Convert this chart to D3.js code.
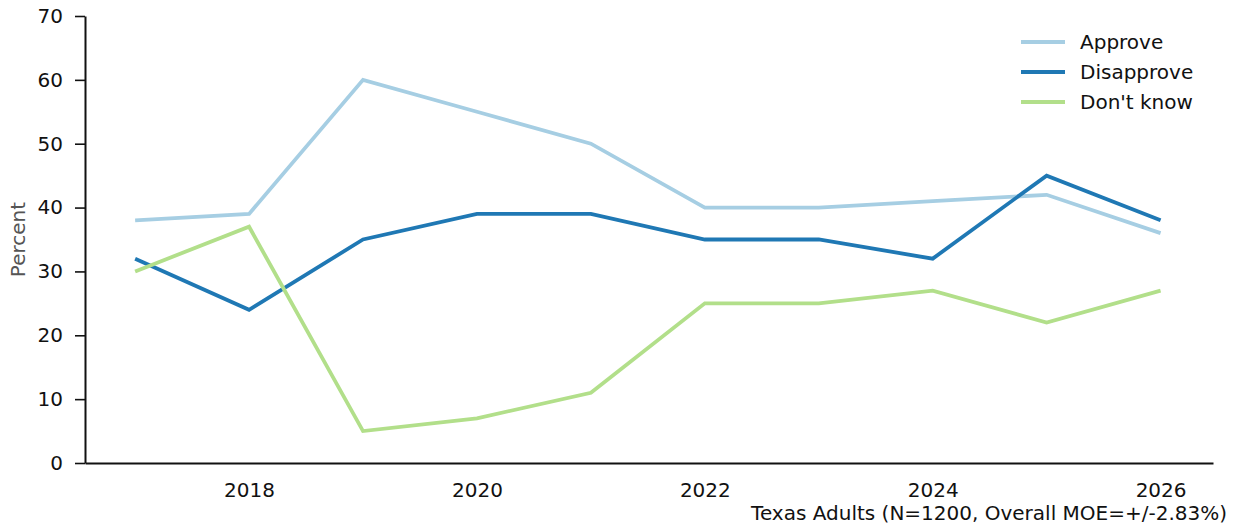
<!DOCTYPE html>
<html><head><meta charset="utf-8">
<script src="https://cdn.jsdelivr.net/npm/d3@7"></script>
<style>body{margin:0;background:#fff}svg{display:block;font-family:"DejaVu Sans",sans-serif}</style>
</head><body><svg id="c" width="1240" height="529"></svg>
<script>
const years = [2017,2018,2019,2020,2021,2022,2023,2024,2025,2026];
const approve = [38,39,60,55,50,40,40,41,42,36];
const disapprove = [32,24,35,39,39,35,35,32,45,38];
const dontKnow = [30,37,5,7,11,25,25,27,22,27];
const seriesNames = ["Approve","Disapprove","Don't know"];
const seriesColors = ["#a6cee3","#1f78b4","#b2df8a"];
const xTicks = [2018,2020,2022,2024,2026];
const yTicks = [0,10,20,30,40,50,60,70];
const yLabel = "Percent";
const note = "Texas Adults (N=1200, Overall MOE=+/-2.83%)";

const FS = 20;
const svg = d3.select("#c");
const L=85, R=1213, T=16, B=463;
const x = d3.scaleLinear().domain([2016.56,2026.46]).range([L,R]);
const y = d3.scaleLinear().domain([0,70]).range([B,T]);

const xa = svg.append("g").attr("transform",`translate(0,${B})`)
  .call(d3.axisBottom(x).tickValues(xTicks).tickFormat(d3.format("d")).tickSize(8).tickPadding(12).tickSizeOuter(0));
const ya = svg.append("g").attr("transform",`translate(${L},0)`)
  .call(d3.axisLeft(y).tickValues(yTicks).tickSize(10).tickPadding(12).tickSizeOuter(0));
[xa,ya].forEach(a=>{
  a.selectAll("path").attr("stroke","#111").attr("stroke-width",2);
  a.selectAll("line").attr("stroke","#111").attr("stroke-width",1.6);
  a.selectAll("text").attr("font-size",FS).attr("fill","#111").attr("font-family","DejaVu Sans");
});
xa.selectAll(".tick line").remove();

svg.append("text").attr("transform",`translate(25,${y(35)}) rotate(-90)`)
  .attr("text-anchor","middle").attr("font-size",FS).attr("fill","#555").text(yLabel);

const data = [approve,disapprove,dontKnow];
const line = d3.line().x((d,i)=>x(years[i])).y(d=>y(d));
data.forEach((s,k)=>{
  svg.append("path").datum(s).attr("d",line).attr("fill","none")
    .attr("stroke",seriesColors[k]).attr("stroke-width",3.8);
});

const lg = svg.append("g");
seriesNames.forEach((n,k)=>{
  const yy = 42 + k*30;
  lg.append("line").attr("x1",1021).attr("x2",1065).attr("y1",yy).attr("y2",yy)
    .attr("stroke",seriesColors[k]).attr("stroke-width",3.8);
  lg.append("text").attr("x",1080).attr("y",yy).attr("dy","0.35em")
    .attr("font-size",FS).attr("fill","#111").text(n);
});

svg.append("text").attr("x",1227).attr("y",520).attr("text-anchor","end")
  .attr("font-size",FS).attr("fill","#111").text(note);
</script></body></html>
